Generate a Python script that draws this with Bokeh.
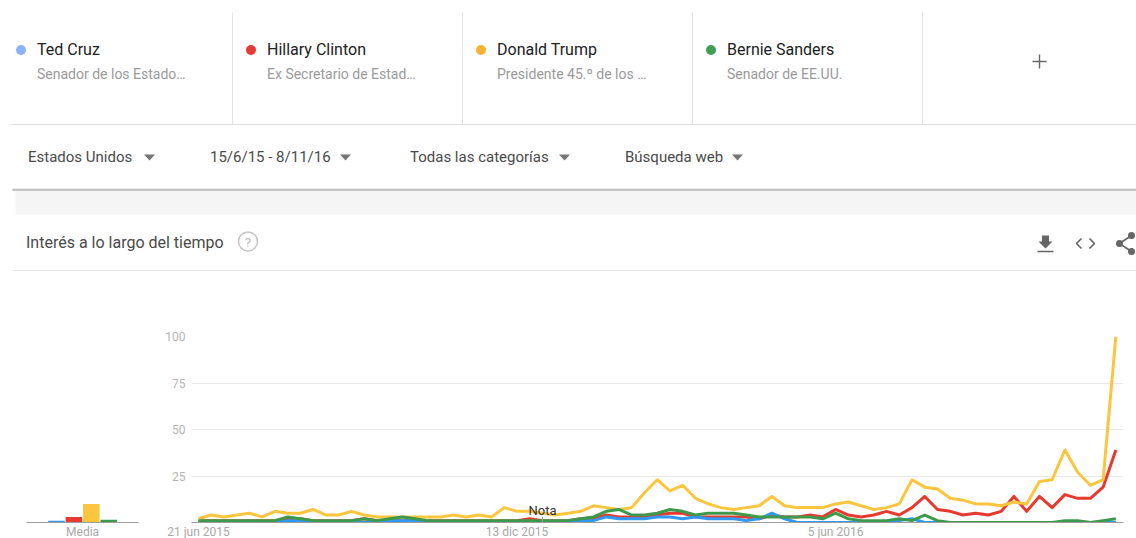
import pandas as pd
from bokeh.embed import file_html
from bokeh.resources import INLINE
from bokeh.plotting import figure
from bokeh.layouts import column, row
from bokeh.models import Range1d, FixedTicker
from bokeh.core.properties import value

FONT = "Roboto"

# ---- data ----
start_date = "2015-06-21"
n_weeks = 73
ted_cruz = [0]*7 + [1, 1] + [0]*6 + [1, 1, 1] + [0]*11 + [1, 1, 1, 3, 2, 2, 2, 3, 3, 2, 3, 2, 2, 2, 1, 2, 5, 2,
            0, 0, 0, 0, 0, 0, 0, 0, 1, 2] + [0]*16
hillary = [1, 1, 1, 1, 1, 1, 1, 2, 2, 1, 1, 1, 1, 2, 1, 1, 1, 1, 1, 1, 1, 1, 1, 1, 1, 1, 2,
           1, 1, 1, 2, 2, 4, 3, 3, 3, 4, 5, 5, 3, 3, 3, 3, 3, 2, 4, 3,
           3, 4, 3, 7, 4, 3, 4, 6, 4, 8, 14, 7, 6, 4, 5, 4, 6, 14, 6, 14, 8, 15, 13, 13, 19, 39]
trump = [2, 4, 3, 4, 5, 3, 6, 5, 5, 7, 4, 4, 6, 4, 3, 3,
         3, 3, 3, 3, 4, 3, 4, 3, 8, 6, 6, 5, 4, 5, 6, 9, 8, 7, 8, 16, 23, 17, 20, 13, 10, 8, 7, 8, 9, 14, 9,
         8, 8, 8, 10, 11, 9, 7, 8, 10, 23, 19, 18, 13, 12, 10, 10, 9, 11, 10, 22, 23, 39, 27, 20, 23, 100]
bernie = [1, 1, 1, 1, 1, 1, 1, 3, 2, 1, 1, 1, 1, 2, 1, 2, 3, 2, 1, 1, 1, 1, 1, 1, 1, 1, 1, 1, 1, 1,
          2, 3, 6, 7, 4, 4, 5, 7, 6, 4, 5, 5, 5, 4, 3, 3, 3,
          3, 3, 2, 5, 2, 1, 1, 1, 2, 1, 4, 1, 0, 0, 0, 0, 0, 0, 0, 0, 0, 1, 1, 0, 1, 2]
series_names = ["Ted Cruz", "Hillary Clinton", "Donald Trump", "Bernie Sanders"]
series_subs = ["Senador de los Estado…", "Ex Secretario de Estad…", "Presidente 45.º de los …", "Senador de EE.UU."]
series_dots = ["#8ab4f8", "#e53935", "#f9b233", "#3f9f55"]
line_colors = ["#2f98f3", "#e8392f", "#fcc53e", "#3d9a4c"]
media_values = [1, 3, 10, 1.5]
filters = ["Estados Unidos", "15/6/15 - 8/11/16", "Todas las categorías", "Búsqueda web"]
y_ticks = [25, 50, 75, 100]
x_tick_dates = ["2015-06-21", "2015-12-13", "2016-06-05"]
x_tick_labels = ["21 jun 2015", "13 dic 2015", "5 jun 2016"]
note_date = "2015-12-27"

dates = pd.date_range(start_date, periods=n_weeks, freq="7D")
for s in (ted_cruz, hillary, trump, bernie):
    assert len(s) == n_weeks, len(s)

# ---- page chrome, in pixel coordinates of the page ----
top = figure(width=1136, height=300, x_range=Range1d(0, 1136), y_range=Range1d(300, 0),
             output_backend="svg", toolbar_location=None, min_border=0,
             outline_line_color=None, background_fill_color="white", border_fill_color="white")
top.axis.visible = False
top.grid.visible = False


def txt(x, y, s, size, color, align="left"):
    top.text([x], [y], text=[s], text_font=value(FONT), text_font_size=f"{size}px",
             text_color=color, text_baseline="middle", text_align=align)


for xd in [232, 462, 692, 922]:
    top.segment([xd], [12], [xd], [124], line_color="#e3e3e3", line_width=1)
top.segment([10], [124], [1136], [124], line_color="#e0e0e0", line_width=1.2)
for xt, name, sub, dot in zip([37, 267, 497, 727], series_names, series_subs, series_dots):
    top.scatter([xt - 16.5], [49.5], size=10, color=dot, line_color=None)
    txt(xt - 0.5, 49, name, 16, "#212121")
    txt(xt - 0.5, 73, sub, 14, "#9a9a9a")
top.segment([1032, 1039], [61, 54], [1046, 1039], [61, 68], line_color="#666666", line_width=1.4)

for xt, xm, label in zip([28, 210, 410, 625], [149, 345, 564, 737], filters):
    txt(xt - 0.5, 156.5, label, 15, "#4a4a4a")
    top.patch([xm - 5.5, xm + 5.5, xm], [154, 154, 160], color="#757575", line_color=None)

top.quad(left=[15], right=[1136], top=[190], bottom=[214], color="#f5f5f5", line_color=None)
top.segment([12], [188.5], [1136], [188.5], line_color="#d0d0d0", line_width=1)
top.segment([12], [189.5], [1136], [189.5], line_color="#b4b4b4", line_width=1.6)

txt(25.5, 242, "Interés a lo largo del tiempo", 16, "#4a4a4a")
top.scatter([247.5], [241], size=19, fill_color=None, line_color="#c4c4c4", line_width=1.5)
txt(247.5, 241.5, "?", 13.5, "#bdbdbd", "center")
top.segment([12], [270], [1136], [270], line_color="#e8e8e8", line_width=1)

# icons
top.patch([1041.5, 1048.5, 1048.5, 1052, 1045, 1038, 1041.5],
          [235, 235, 241, 241, 248, 241, 241], color="#666666", line_color=None)
top.segment([1037], [251], [1053], [251], line_color="#666666", line_width=1.6)
top.multi_line([[1081, 1076, 1081], [1089, 1094, 1089]], [[238, 243, 248], [238, 243, 248]],
               line_color="#666666", line_width=1.6)
top.multi_line([[1131, 1119, 1131]], [[235, 243, 251]], line_color="#666666", line_width=1.6)
top.scatter([1131, 1119, 1131], [235, 243, 251], size=7, color="#666666", line_color=None)

# ---- mean bars ----
media = figure(width=160, height=241, x_range=Range1d(-1.72, 4.71), y_range=Range1d(0, 100),
               output_backend="svg", toolbar_location=None, outline_line_color=None,
               min_border_left=26, min_border_right=22, min_border_top=36, min_border_bottom=0)
media.vbar(x=[0, 1, 2, 3], top=media_values, width=0.95, color=line_colors, line_color=None)
media.yaxis.visible = False
media.grid.visible = False
media.xaxis.ticker = FixedTicker(ticks=[1.5])
media.xaxis.major_label_overrides = {1.5: "Media"}

# ---- time series ----
x0 = dates[0] - pd.Timedelta(days=3.85)
x1 = dates[0] + pd.Timedelta(days=508.2)
chart = figure(width=976, height=241, x_axis_type="datetime", x_range=Range1d(x0, x1),
               y_range=Range1d(0, 100), output_backend="svg", toolbar_location=None,
               outline_line_color=None, min_border_left=31, min_border_right=13,
               min_border_top=36, min_border_bottom=0)
for s, c in [(hillary, line_colors[1]), (ted_cruz, line_colors[0]), (trump, line_colors[2]), (bernie, line_colors[3])]:
    chart.line(dates, s, line_color=c, line_width=3, line_join="round")

tick_ms = [pd.Timestamp(d).value / 1e6 for d in x_tick_dates]
chart.xaxis.ticker = FixedTicker(ticks=tick_ms)
chart.xaxis.major_label_overrides = dict(zip(tick_ms, x_tick_labels))

for ax in (media.xaxis, chart.xaxis):
    ax.major_tick_line_color = None
    ax.minor_tick_line_color = None
    ax.major_tick_out = 0
    ax.major_tick_in = 0
    ax.axis_line_color = "#9e9e9e"
    ax.major_label_standoff = 2
    ax.major_label_text_font = FONT
    ax.major_label_text_font_size = "12px"
    ax.major_label_text_color = "#a8a8a8"

chart.yaxis.ticker = FixedTicker(ticks=y_ticks)
chart.yaxis.axis_line_color = None
chart.yaxis.major_tick_line_color = None
chart.yaxis.minor_tick_line_color = None
chart.yaxis.major_tick_out = 0
chart.yaxis.major_tick_in = 0
chart.yaxis.major_label_standoff = 6
chart.yaxis.major_label_text_font = FONT
chart.yaxis.major_label_text_font_size = "12px"
chart.yaxis.major_label_text_color = "#b4b4b4"
chart.xgrid.visible = False
chart.ygrid.ticker = FixedTicker(ticks=y_ticks)
chart.ygrid.grid_line_color = "#e9e9e9"
chart.ygrid.grid_line_width = 1.2

note_x = pd.Timestamp(note_date)
chart.segment([note_x], [0], [note_x], [3], line_color="#9e9e9e", line_width=1)
chart.text([note_x], [2.6], text=["Nota"], text_font=value(FONT), text_font_size="13px",
           text_color="#333333", text_align="center", text_baseline="bottom")

page = column(top, row(media, chart, spacing=0), spacing=0, height=538, styles={"overflow": "hidden"})
open("out.html", "w").write(file_html(page, INLINE))
